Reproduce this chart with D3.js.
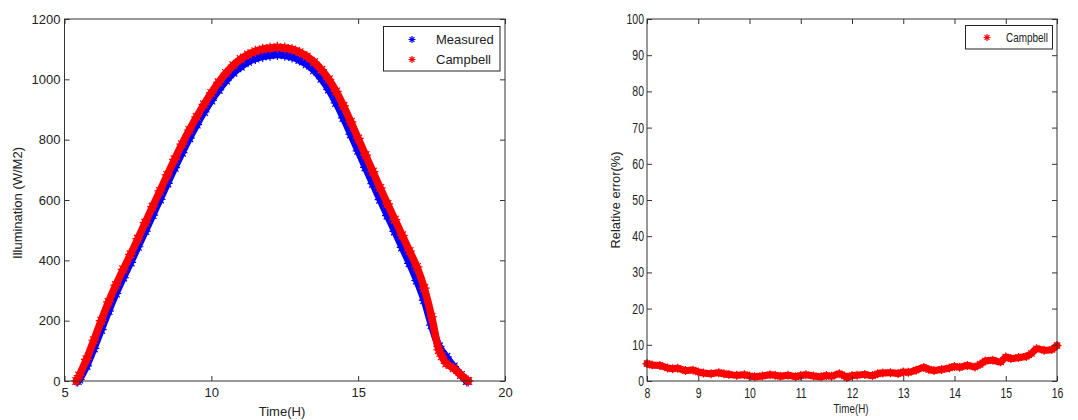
<!DOCTYPE html>
<meta charset="utf-8">
<title>Illumination vs Campbell</title>
<style>
body { margin: 0; background: #fff; }
svg { display: block; }
text { font-family: Arial, "Liberation Sans", sans-serif; fill: #222; }
.axis path { display: none; }
.axis line { stroke: #333; }
</style>
<script src="https://cdn.jsdelivr.net/npm/d3@7"></script>
<body>
<script>
// left panel: measured vs Campbell illumination
var timeMeasured = [5.45, 5.5, 5.75, 6.0, 6.25, 6.5, 6.75, 7.0, 7.25, 7.5, 7.75, 8.0, 8.25, 8.5, 8.75, 9.0, 9.25, 9.5, 9.75,
  10.0, 10.25, 10.5, 10.75, 11.0, 11.25, 11.5, 11.75, 12.0, 12.25, 12.5, 12.75, 13.0, 13.25, 13.5, 13.75,
  14.0, 14.25, 14.5, 14.75, 15.0, 15.25, 15.5, 15.75, 16.0, 16.25, 16.5, 16.75, 17.0, 17.25, 17.5, 17.75,
  18.0, 18.25, 18.5, 18.7];
var measured = [0, 5, 50, 108, 170, 232, 290, 343, 393, 445, 497, 550, 602, 655, 707, 757, 805, 850, 892,
  930, 965, 996, 1022, 1042, 1058, 1069, 1076, 1080, 1082, 1080, 1074, 1064, 1050, 1030, 1002,
  966, 922, 872, 818, 763, 708, 654, 601, 548, 496, 443, 390, 333, 268, 185, 115,
  80, 48, 20, 0];

var timeCampbell = [5.4, 5.5, 5.75, 6.0, 6.25, 6.5, 6.75, 7.0, 7.25, 7.5, 7.75, 8.0, 8.25, 8.5, 8.75, 9.0, 9.25, 9.5, 9.75,
  10.0, 10.25, 10.5, 10.75, 11.0, 11.25, 11.5, 11.75, 12.0, 12.25, 12.5, 12.75, 13.0, 13.25, 13.5, 13.75,
  14.0, 14.25, 14.5, 14.75, 15.0, 15.25, 15.5, 15.75, 16.0, 16.25, 16.5, 16.75, 17.0, 17.25, 17.5, 17.75,
  17.85, 18.0, 18.25, 18.5, 18.75];
var campbell = [0, 18, 72, 135, 200, 262, 318, 370, 420, 472, 525, 578, 630, 683, 735, 785, 832, 876, 917,
  955, 990, 1021, 1047, 1067, 1082, 1093, 1100, 1104, 1106, 1104, 1099, 1090, 1076, 1057, 1032,
  1000, 960, 912, 859, 804, 749, 694, 640, 587, 535, 483, 431, 378, 308, 213, 103,
  82, 58, 42, 20, 0];

// right panel: relative error of Campbell
var timeError = [8.0, 8.1, 8.25, 8.4, 8.5, 8.6, 8.75, 8.9, 9.0, 9.1, 9.25, 9.4, 9.5, 9.6, 9.75, 9.9, 10.0, 10.1,
  10.25, 10.4, 10.5, 10.6, 10.75, 10.9, 11.0, 11.1, 11.25, 11.4, 11.5, 11.6, 11.75, 11.85, 11.9, 12.0,
  12.1, 12.25, 12.4, 12.5, 12.6, 12.75, 12.9, 13.0, 13.1, 13.25, 13.4, 13.5, 13.6, 13.75, 13.9, 14.0,
  14.1, 14.25, 14.4, 14.5, 14.6, 14.75, 14.9, 15.0, 15.1, 15.25, 15.4, 15.5, 15.6, 15.75, 15.9, 16.0];
var relError = [4.8, 4.4, 4.3, 3.6, 3.4, 3.5, 2.9, 3.0, 2.5, 2.2, 2.0, 2.3, 2.0, 1.8, 1.6, 1.7, 1.4, 1.2,
  1.4, 1.7, 1.6, 1.3, 1.6, 1.2, 1.5, 1.7, 1.4, 1.2, 1.5, 1.3, 2.0, 1.4, 1.0, 1.5,
  1.6, 1.8, 1.5, 2.0, 2.2, 2.3, 2.1, 2.5, 2.4, 3.0, 3.7, 3.2, 2.9, 3.2, 3.6, 4.0,
  3.8, 4.3, 3.9, 4.6, 5.5, 5.7, 5.3, 6.6, 6.2, 6.5, 6.8, 7.6, 8.9, 8.5, 8.7, 9.8];

var xTicksL = [5, 10, 15, 20];
var yTicksL = [0, 200, 400, 600, 800, 1000, 1200];
var xTicksR = [8, 9, 10, 11, 12, 13, 14, 15, 16];
var yTicksR = [0, 10, 20, 30, 40, 50, 60, 70, 80, 90, 100];

var width = 1078, height = 420;
var svg = d3.select("body").append("svg")
    .attr("width", width)
    .attr("height", height);

function star(s) {
  var k = s * 0.7;
  return "M" + (-s) + ",0L" + s + ",0M0," + (-s) + "L0," + s +
    "M" + (-k) + "," + (-k) + "L" + k + "," + k + "M" + (-k) + "," + k + "L" + k + "," + (-k);
}

function frame(g, x, y, xt, yt, squeeze, fs) {
  var x0 = x.range()[0], x1 = x.range()[1], y0 = y.range()[0], y1 = y.range()[1];
  var fmt = d3.format("d");
  g.append("g").attr("class", "axis").attr("transform", "translate(0," + y0 + ")")
    .call(d3.axisBottom(x).tickValues(xt).tickFormat(fmt).tickSizeInner(-5).tickSizeOuter(0).tickPadding(7));
  g.append("g").attr("class", "axis").attr("transform", "translate(0," + y1 + ")")
    .call(d3.axisTop(x).tickValues(xt).tickSizeInner(-5).tickSizeOuter(0).tickFormat(""));
  g.append("g").attr("class", "axis").attr("transform", "translate(" + x0 + ",0)")
    .call(d3.axisLeft(y).tickValues(yt).tickFormat(fmt).tickSizeInner(-5).tickSizeOuter(0).tickPadding(4));
  g.append("g").attr("class", "axis").attr("transform", "translate(" + x1 + ",0)")
    .call(d3.axisRight(y).tickValues(yt).tickSizeInner(-5).tickSizeOuter(0).tickFormat(""));
  g.selectAll(".axis text").style("font-size", fs + "px").attr("fill", "#222")
    .attr("transform", "scale(" + squeeze + ",1)");
  g.append("rect")
    .attr("x", x0).attr("y", y1)
    .attr("width", x1 - x0).attr("height", y0 - y1)
    .attr("fill", "none").attr("stroke", "#333");
}

function band(g, x, y, xs, ys, color, w, s) {
  var pts = xs.map(function(t, i) { return [t, ys[i]]; });
  var line = d3.line()
    .x(function(d) { return x(d[0]); })
    .y(function(d) { return y(d[1]); })
    .curve(d3.curveCatmullRom);
  g.append("path").datum(pts)
    .attr("d", line)
    .attr("fill", "none").attr("stroke", color)
    .attr("stroke-width", w).attr("stroke-linejoin", "round").attr("stroke-linecap", "round");
  g.selectAll(null).data(pts).enter().append("path")
    .attr("transform", function(d) { return "translate(" + x(d[0]) + "," + y(d[1]) + ")"; })
    .attr("d", star(s))
    .attr("stroke", color).attr("stroke-width", 1.2).attr("fill", "none");
}

// ---- left plot
var xL = d3.scaleLinear().domain([5, 20]).range([64.5, 505]);
var yL = d3.scaleLinear().domain([0, 1200]).range([381, 19]);
var left = svg.append("g");
var plotL = left.append("g");
band(plotL, xL, yL, timeMeasured, measured, "#0000ff", 7.5, 5.5);
band(plotL, xL, yL, timeCampbell, campbell, "#ff0000", 7.5, 5.5);
frame(left, xL, yL, xTicksL, yTicksL, 1, 13);

left.append("text")
  .attr("x", 282).attr("y", 416)
  .attr("text-anchor", "middle").style("font-size", "13px")
  .text("Time(H)");
left.append("text")
  .attr("transform", "translate(22,203) rotate(-90)")
  .attr("text-anchor", "middle").style("font-size", "13px")
  .text("Illumination (W/M2)");

var legL = left.append("g");
legL.append("rect").attr("x", 383.5).attr("y", 26.5).attr("width", 116.5).attr("height", 44.5)
  .attr("fill", "#fff").attr("stroke", "#222");
[["Measured", "#0000ff"], ["Campbell", "#ff0000"]].forEach(function(d, i) {
  var yy = 39.5 + i * 20;
  legL.append("path").attr("transform", "translate(412," + yy + ")").attr("d", star(3.5))
    .attr("stroke", d[1]).attr("stroke-width", 1.2);
  legL.append("text").attr("x", 436).attr("y", yy + 4.5).style("font-size", "13px").text(d[0]);
});

// ---- right plot
var xR = d3.scaleLinear().domain([8, 16]).range([647, 1057]);
var yR = d3.scaleLinear().domain([0, 100]).range([381, 19]);
var right = svg.append("g");
var plotR = right.append("g");
band(plotR, xR, yR, timeError, relError, "#ff0000", 7, 4.5);
frame(right, xR, yR, xTicksR, yTicksR, 0.75, 14);

right.append("text")
  .attr("x", 851).attr("y", 413)
  .attr("text-anchor", "middle").style("font-size", "13px")
  .attr("textLength", 35).attr("lengthAdjust", "spacingAndGlyphs")
  .text("Time(H)");
right.append("text")
  .attr("transform", "translate(620,200) rotate(-90)")
  .attr("text-anchor", "middle").style("font-size", "12px")
  .attr("textLength", 97).attr("lengthAdjust", "spacingAndGlyphs")
  .text("Relative error(%)");

var legR = right.append("g");
legR.append("rect").attr("x", 965.5).attr("y", 25.5).attr("width", 87).attr("height", 23.5)
  .attr("fill", "#fff").attr("stroke", "#222");
legR.append("path").attr("transform", "translate(987,37.5)").attr("d", star(3.5))
  .attr("stroke", "#ff0000").attr("stroke-width", 1.2);
legR.append("text").attr("x", 1006).attr("y", 42).style("font-size", "13px")
  .attr("textLength", 42).attr("lengthAdjust", "spacingAndGlyphs")
  .text("Campbell");
</script>
